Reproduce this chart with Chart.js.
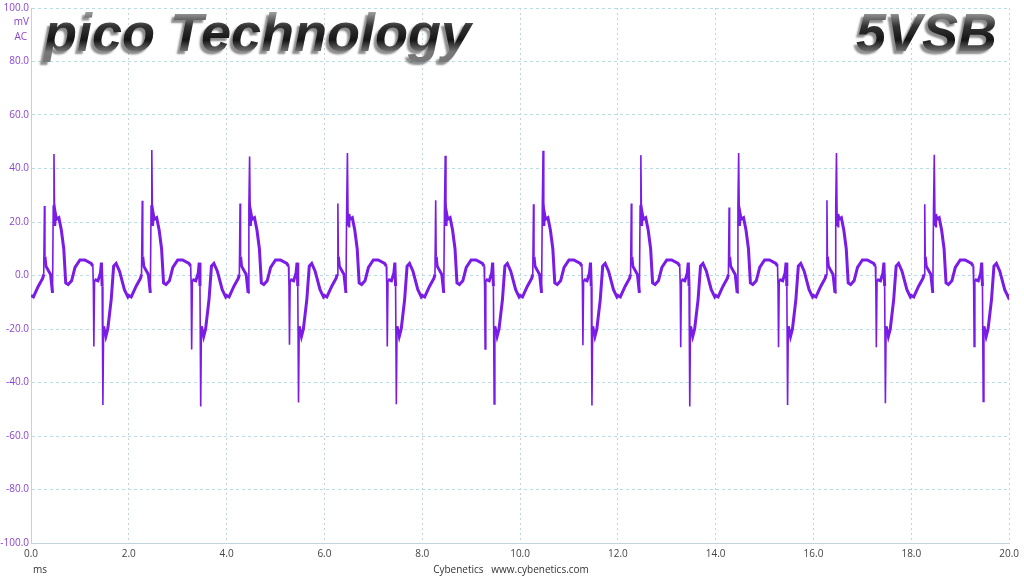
<!DOCTYPE html>
<html>
<head>
<meta charset="utf-8">
<script src="https://cdn.jsdelivr.net/npm/chart.js@4"></script>
<style>
  html, body { margin: 0; padding: 0; background: #fff; }
  #wrap { width: 1024px; height: 576px; }
</style>
</head>
<body>
<div id="wrap"><canvas id="scope" width="1024" height="576"></canvas></div>
<script>
// one 2 ms switching cycle (ms offset within cycle, mV)
const cycleOffsets = [0.00, 0.05, 0.15, 0.24, 0.26, 0.275, 0.285, 0.305, 0.35, 0.40,
	0.44, 0.455, 0.47, 0.485, 0.50, 0.52, 0.57, 0.62, 0.67, 0.71,
	0.76, 0.83, 0.90, 1.00, 1.10, 1.23, 1.265, 1.275, 1.285, 1.30,
	1.37, 1.42, 1.44, 1.455, 1.47, 1.485, 1.53, 1.57, 1.64, 1.69,
	1.74, 1.81, 1.91, 1.98];
const cycleShape = [-7.5, -8, -4, -1, 0.4, 26, 7, 3.5, 2, 0.4,
	-6.5, 26, 45, 18.5, 23, 21, 21.6, 17, 10, -2.8,
	-3.4, -2, 3, 5.8, 5.8, 4.5, 3.5, -4, -26.5, -1.5,
	-2, 1, 4.8, -4, -48, -19, -22.8, -20, -9, 3.5,
	4.5, 1.6, -5.3, -8];

// spike peaks for each of the 10 cycles
const smallSpike = [26.0, 27.9, 26.9, 26.9, 28.1, 26.6, 26.9, 25.4, 28.1, 26.6];
const bigSpike = [45.4, 46.9, 44.5, 45.8, 44.8, 46.6, 45.0, 45.8, 45.8, 45.1];
const firstDip = [-26.5, -27.7, -25.9, -26.5, -27.5, -26.1, -26.8, -26.8, -26.8, -26.5];
const deepDip = [-48.4, -49.0, -47.5, -48.1, -48.0, -48.6, -49.0, -48.4, -47.8, -47.1];
const endValue = -7;

const cyclePeriod = 2;
const yTicks = [-100, -80, -60, -40, -20, 0, 20, 40, 60, 80, 100];

var points = [];
for (var c = 0; c < smallSpike.length; c++) {
	for (var i = 0; i < cycleOffsets.length; i++) {
		var v = cycleShape[i];
		if (i === 5) v = smallSpike[c];
		if (i === 12) v = bigSpike[c];
		if (i === 28) v = firstDip[c];
		if (i === 34) v = deepDip[c];
		points.push({ x: c * cyclePeriod + cycleOffsets[i], y: v });
	}
}
points.push({ x: 20, y: endValue });

const purple = '#7a1ce6';
const labelPurple = '#8a45d0';

// big headline text + unit labels painted over the plot
const overlay = {
	id: 'overlay',
	afterDraw(chart) {
		var ctx = chart.ctx;
		ctx.save();
		ctx.font = '10px "Open Sans", "Noto Sans", sans-serif';
		ctx.fillStyle = labelPurple;
		ctx.textAlign = 'right';
		ctx.textBaseline = 'middle';
		ctx.fillText('mV', 29, 22);
		ctx.fillText('AC', 27, 37);
		ctx.fillStyle = '#333';
		ctx.textAlign = 'left';
		ctx.fillText('ms', 33, 570);
		ctx.textAlign = 'center';
		ctx.fillText('Cybenetics   www.cybenetics.com', 511, 570);

		ctx.font = 'italic bold 54px "Liberation Sans", Arial, sans-serif';
		ctx.textBaseline = 'alphabetic';
		var g = ctx.createLinearGradient(0, 12, 0, 52);
		g.addColorStop(0, '#a0a0a0');
		g.addColorStop(0.35, '#333');
		g.addColorStop(0.7, '#151515');
		g.addColorStop(1, '#777');
		ctx.shadowColor = 'rgba(0,0,0,0.45)';
		ctx.shadowOffsetX = -3;
		ctx.shadowOffsetY = 3;
		ctx.shadowBlur = 2;
		ctx.fillStyle = g;
		ctx.textAlign = 'left';
		ctx.fillText('pico Technology', 44, 51);
		ctx.textAlign = 'right';
		ctx.fillText('5VSB', 997, 51);
		ctx.restore();
	}
};

var ctx = document.getElementById('scope');
var scopeChart = new Chart(ctx, {
	type: 'line',
	data: {
		datasets: [
			{
				data: points,
				borderColor: purple,
				borderWidth: 3,
				pointRadius: 0,
				tension: 0,
				segment: {
					// single-sample spikes are thin, the noisy body of the trace is thick
					borderWidth: (s) => {
						var slope = Math.abs(s.p1.parsed.y - s.p0.parsed.y) / Math.max(s.p1.parsed.x - s.p0.parsed.x, 1e-6);
						return slope > 700 ? 1.6 : 3;
					},
				},
			},
		],
	},
	options: {
		responsive: false,
		animation: false,
		events: [],
		layout: { padding: { top: 8, right: 14, left: 0, bottom: 0 } },
		plugins: { legend: { display: false }, tooltip: { enabled: false } },
		scales: {
			x: {
				type: 'linear',
				min: 0,
				max: 20,
				afterFit: (s) => { s.height = 33; },
				ticks: {
					stepSize: 2,
					padding: 5,
					color: '#444',
					font: { family: '"Open Sans", "Noto Sans", sans-serif', size: 10 },
					maxRotation: 0,
					callback: (v) => v.toFixed(1),
				},
				grid: { color: '#c3d3dc', drawTicks: false },
				border: { dash: [2, 3], color: '#c3d3dc' },
			},
			y: {
				min: -100,
				max: 100,
				afterFit: (s) => { s.width = 31; },
				afterBuildTicks: (s) => { s.ticks = yTicks.map((v) => ({ value: v })); },
				ticks: {
					padding: 2,
					color: labelPurple,
					font: { family: '"Open Sans", "Noto Sans", sans-serif', size: 10 },
					callback: (v) => v.toFixed(1),
				},
				grid: { color: '#b9dde4', drawTicks: false },
				border: { dash: [3, 3], color: '#c3d3dc' },
			},
		},
	},
	plugins: [overlay],
});
</script>
</body>
</html>
